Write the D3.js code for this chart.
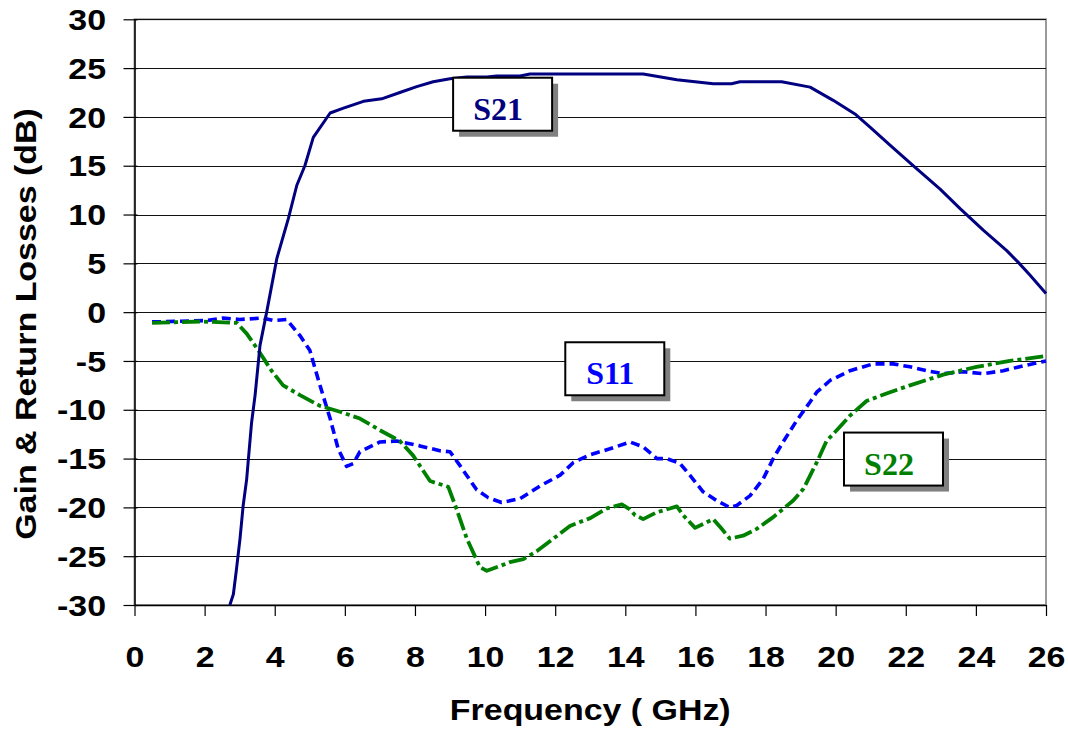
<!DOCTYPE html>
<html>
<head>
<meta charset="utf-8">
<script src="https://cdn.jsdelivr.net/npm/d3@7"></script>
<style>
  html, body { margin: 0; padding: 0; background: #fff; }
  svg { display: block; }
</style>
</head>
<body>
<svg id="chart" width="1068" height="734"></svg>
<script>
// ---------------- data ----------------
const xTicks = [0, 2, 4, 6, 8, 10, 12, 14, 16, 18, 20, 22, 24, 26];
const yTicks = [-30, -25, -20, -15, -10, -5, 0, 5, 10, 15, 20, 25, 30];

const s21Freq = [2.72, 2.82, 2.91, 3.01, 3.1, 3.2, 3.25, 3.34, 3.44, 3.58, 3.77, 4.06, 4.39, 4.63, 4.86, 5.1, 5.58, 5.96, 6.53, 7.05, 7.57, 8.05, 8.52, 9.0, 9.48, 10.05, 10.33, 11.0, 11.28, 12.5, 13.85, 14.51, 15.47, 16.51, 17.03, 17.27, 18.46, 19.27, 19.93, 20.55, 20.98, 21.55, 22.21, 22.98, 23.55, 24.21, 24.88, 25.21, 25.54, 26.0];
const s21dB   = [-30, -28.9, -26.3, -23.2, -19.8, -17.1, -15.0, -11.3, -8.5, -3.4, 0, 5.5, 9.6, 13.0, 15.0, 17.9, 20.4, 20.9, 21.6, 21.85, 22.5, 23.1, 23.6, 23.9, 24.1, 24.1, 24.2, 24.2, 24.4, 24.4, 24.4, 24.4, 23.8, 23.4, 23.4, 23.6, 23.6, 23.05, 21.7, 20.3, 18.95, 17.1, 15.0, 12.6, 10.6, 8.4, 6.3, 5.1, 3.8, 1.9];

const s11Freq = [0.5, 2.06, 2.53, 3.0, 3.67, 3.96, 4.34, 4.72, 5.0, 5.29, 5.58, 5.81, 6.05, 6.24, 6.43, 7.0, 7.48, 8.14, 8.71, 9.0, 9.28, 9.76, 10.09, 10.47, 11.0, 11.57, 12.14, 12.52, 13.0, 13.56, 14.13, 14.51, 14.9, 15.18, 15.56, 15.84, 16.22, 16.6, 16.98, 17.18, 17.56, 17.93, 18.22, 18.5, 18.89, 19.27, 19.46, 19.84, 20.41, 21.07, 21.64, 22.12, 22.6, 23.07, 23.64, 24.21, 24.78, 25.35, 26.0];
const s11dB   = [-1.0, -0.86, -0.6, -0.75, -0.6, -0.86, -0.75, -2.4, -3.9, -7.5, -10.9, -14.0, -15.8, -15.5, -14.3, -13.3, -13.2, -13.7, -14.2, -14.3, -15.7, -18.2, -19.0, -19.5, -19.1, -17.8, -16.7, -15.4, -14.6, -14.0, -13.3, -13.8, -15.0, -15.0, -15.5, -16.7, -18.4, -19.3, -20.0, -19.8, -18.8, -17.1, -15.0, -13.3, -11.1, -9.2, -8.2, -7.0, -6.0, -5.3, -5.3, -5.6, -6.0, -6.3, -6.1, -6.3, -6.0, -5.5, -5.0];

const s22Freq = [0.5, 1.87, 2.92, 3.2, 3.53, 3.91, 4.24, 4.72, 5.29, 5.86, 6.43, 7.0, 7.57, 7.95, 8.43, 8.95, 9.19, 9.48, 9.85, 10.05, 10.43, 10.71, 11.09, 11.47, 11.95, 12.42, 13.0, 13.47, 13.9, 14.13, 14.28, 14.51, 14.9, 15.47, 15.65, 15.99, 16.51, 16.75, 16.98, 17.36, 17.75, 18.22, 18.79, 19.08, 19.46, 19.74, 20.03, 20.41, 20.88, 21.55, 22.12, 23.07, 24.02, 24.97, 26.0];
const s22dB   = [-1.1, -0.96, -1.1, -2.2, -3.9, -6.0, -7.5, -8.5, -9.6, -10.2, -10.9, -12.1, -13.2, -14.7, -17.3, -17.9, -20.2, -23.2, -26.1, -26.5, -26.0, -25.6, -25.3, -24.5, -23.2, -21.9, -21.1, -20.1, -19.7, -20.2, -20.8, -21.2, -20.5, -19.9, -20.8, -22.1, -21.2, -22.2, -23.2, -22.9, -22.2, -21.0, -19.3, -18.1, -15.4, -13.2, -12.1, -10.6, -9.1, -8.2, -7.5, -6.4, -5.6, -5.0, -4.5];

const seriesNames = ["S21", "S11", "S22"];
const xTitle = "Frequency ( GHz)";
const yTitle = "Gain & Return Losses (dB)";

// ---------------- layout ----------------
const svg = d3.select("#chart");
const plot = { left: 134.5, right: 1046, top: 19.3, bottom: 605 };
const x = d3.scaleLinear().domain([0, 26]).range([plot.left, plot.right]);
const y = d3.scaleLinear().domain([-30, 30]).range([plot.bottom, plot.top]);
const stretch = 1.17;
const sans = "'Liberation Sans', Arial, Helvetica, sans-serif";
const serif = "'Liberation Serif', 'Times New Roman', serif";

// plot border (gray)
svg.append("rect")
  .attr("x", plot.left).attr("y", plot.top)
  .attr("width", plot.right - plot.left).attr("height", plot.bottom - plot.top)
  .attr("fill", "none").attr("stroke", "#9a9a9a").attr("stroke-width", 2);

// gridlines
svg.append("g").selectAll("line").data(yTicks).join("line")
  .attr("x1", plot.left).attr("x2", plot.right)
  .attr("y1", d => Math.round(y(d)) + 0.5).attr("y2", d => Math.round(y(d)) + 0.5)
  .attr("stroke", "#111").attr("stroke-width", 1);

// axes
const xAxis = d3.axisBottom(x).tickValues(xTicks).tickSize(11).tickSizeOuter(0).tickFormat(d => String(d));
const yAxis = d3.axisLeft(y).tickValues(yTicks).tickSize(11).tickSizeOuter(0).tickFormat(d => String(d));

const gx = svg.append("g").attr("transform", `translate(0,${plot.bottom})`).call(xAxis);
const gy = svg.append("g").attr("transform", `translate(${plot.left},0)`).call(yAxis);

[gx, gy].forEach(g => {
  g.select(".domain").attr("stroke", "#000").attr("stroke-width", 1.5);
  g.selectAll(".tick line").attr("stroke", "#000").attr("stroke-width", 1.2);
  g.selectAll(".tick text")
    .attr("fill", "#000")
    .style("font-family", sans)
    .style("font-weight", "bold")
    .style("font-size", "29px");
});
gx.selectAll(".tick text")
  .attr("y", 62).attr("dy", 0)
  .attr("transform", `scale(${stretch},1)`);
gy.selectAll(".tick text")
  .attr("x", -28.5 / stretch).attr("dy", "0.35em")
  .attr("transform", `scale(${stretch},1)`);
gy.selectAll(".tick line").attr("x2", -11).attr("x1", 3);

// axis titles
svg.append("text")
  .attr("transform", `translate(${(plot.left + plot.right) / 2},720) scale(${stretch},1)`)
  .attr("text-anchor", "middle")
  .style("font-family", sans).style("font-weight", "bold").style("font-size", "29px")
  .text(xTitle);

svg.append("text")
  .attr("transform", `translate(36,324) rotate(-90) scale(${stretch},1)`)
  .attr("text-anchor", "middle")
  .style("font-family", sans).style("font-weight", "bold").style("font-size", "29px")
  .text(yTitle);

// series
const series = [
  { name: seriesNames[0], xs: s21Freq, ys: s21dB, color: "#000080", width: 3, dash: null },
  { name: seriesNames[1], xs: s11Freq, ys: s11dB, color: "#0000FF", width: 3.6, dash: "9,5" },
  { name: seriesNames[2], xs: s22Freq, ys: s22dB, color: "#008000", width: 3.8, dash: "18,4,4,4" }
];

const line = d3.line().x(d => x(d[0])).y(d => y(d[1]));

svg.append("defs").append("clipPath").attr("id", "clip")
  .append("rect").attr("x", plot.left).attr("y", plot.top - 2)
  .attr("width", plot.right - plot.left + 2).attr("height", plot.bottom - plot.top + 2);

const lines = svg.append("g").attr("clip-path", "url(#clip)");
// draw S11, S22 then S21 on top
[series[1], series[2], series[0]].forEach(s => {
  const pts = s.xs.map((v, i) => [v, s.ys[i]]);
  lines.append("path")
    .datum(pts)
    .attr("d", line)
    .attr("fill", "none")
    .attr("stroke", s.color)
    .attr("stroke-width", s.width)
    .attr("stroke-linejoin", "round")
    .attr("stroke-dasharray", s.dash);
});

// annotation boxes (box centre in data units)
const labels = [
  { s: series[0], cx: 10.5, cy: 21.3 },
  { s: series[1], cx: 13.7, cy: -5.8 },
  { s: series[2], cx: 21.65, cy: -15.05 }
];
const boxW = 99, boxH = 53, shadow = 6;
labels.forEach(l => {
  const bx = x(l.cx) - boxW / 2, by = y(l.cy) - boxH / 2;
  svg.append("rect").attr("x", bx + shadow).attr("y", by + shadow)
    .attr("width", boxW).attr("height", boxH).attr("fill", "#808080");
  svg.append("rect").attr("x", bx).attr("y", by)
    .attr("width", boxW).attr("height", boxH)
    .attr("fill", "#fff").attr("stroke", "#000").attr("stroke-width", 2);
  svg.append("text")
    .attr("x", bx + boxW / 2 - 4.5).attr("y", by + 42)
    .attr("text-anchor", "middle")
    .attr("fill", l.s.color)
    .style("font-family", serif).style("font-weight", "bold").style("font-size", "32px")
    .text(l.s.name);
});
</script>
</body>
</html>
